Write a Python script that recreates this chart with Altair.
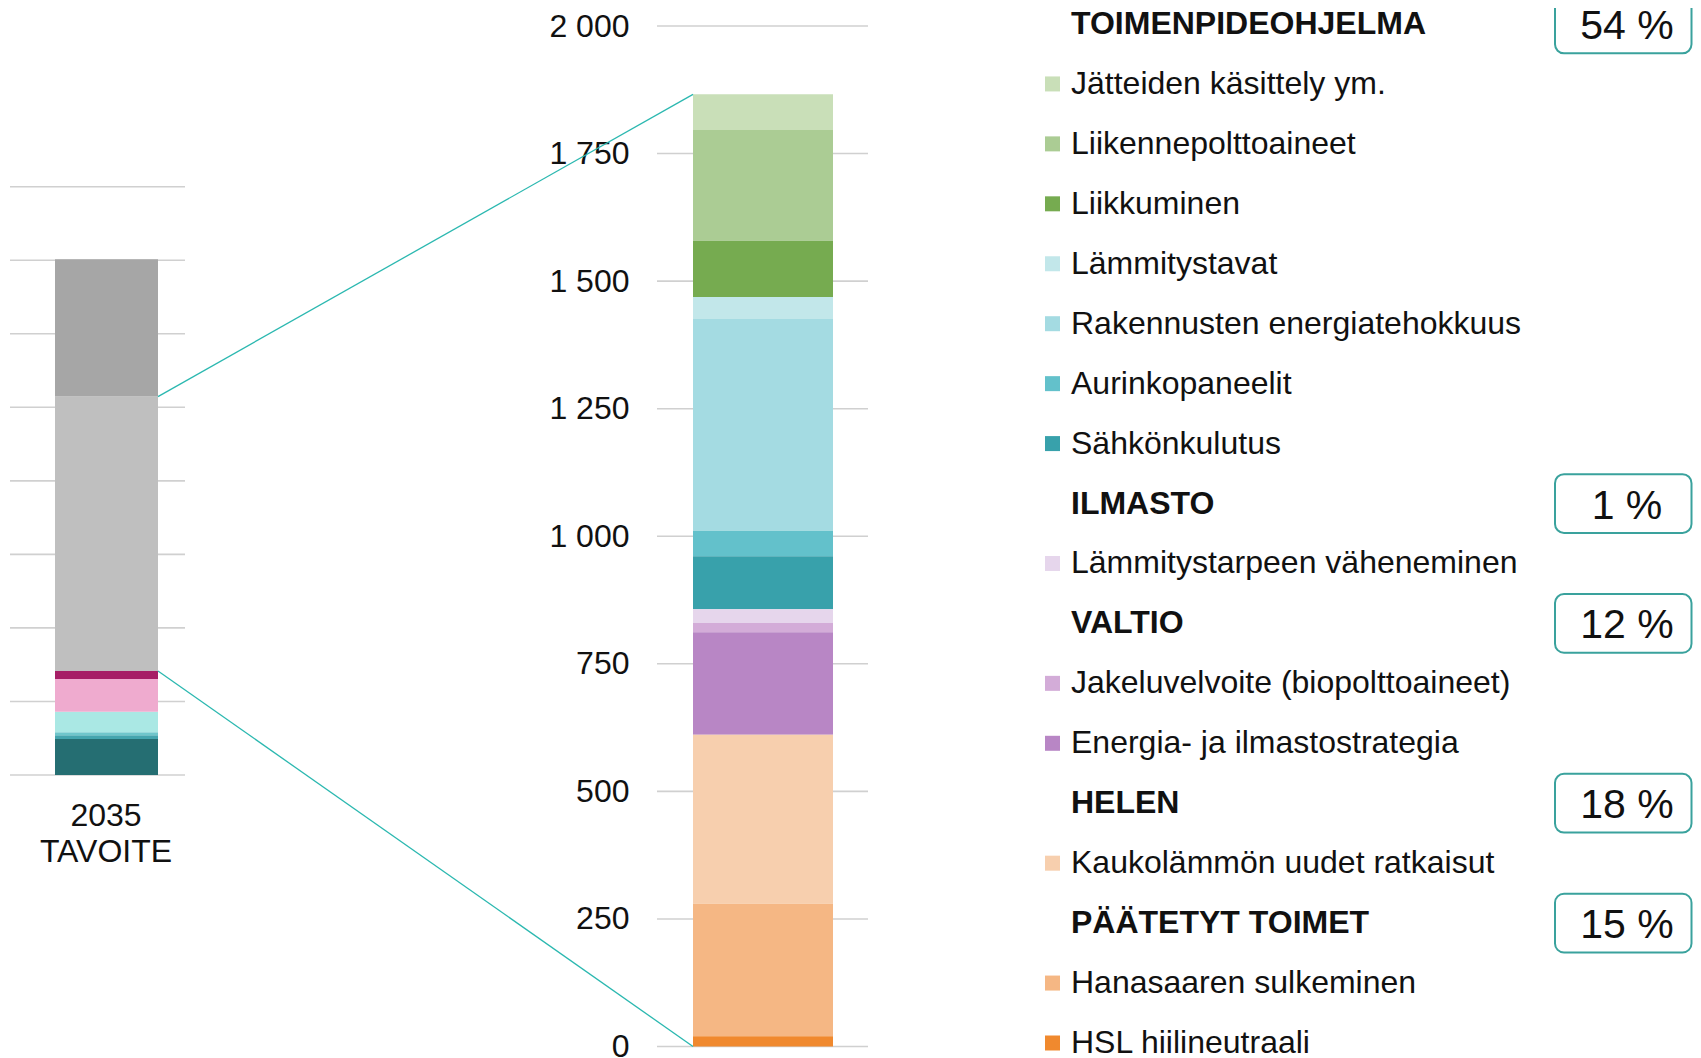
import altair as alt
import pandas as pd

FONT = "Liberation Sans"
TEXT_COLOR = "#111111"

# ---- Left bar: 2035 target (bottom -> top), unlabeled units, grid every 500
left_keys = ["k1", "k2", "k3", "k4", "k5", "k6", "k7", "k8"]
left_vals = [245, 25, 20, 140, 223, 54, 1866, 934]
left_colors = ["#256e72", "#45a5ae", "#6fc6cb", "#aae8e4", "#efabcf", "#a61f66", "#bfbfbf", "#a6a6a6"]
left_ticks = [0, 500, 1000, 1500, 2000, 2500, 3000, 3500, 4000]
left_label = "2035\nTAVOITE"

# ---- Middle bar: categories in legend order (top -> bottom)
mid_cats = [
    "Jätteiden käsittely ym.",
    "Liikennepolttoaineet",
    "Liikkuminen",
    "Lämmitystavat",
    "Rakennusten energiatehokkuus",
    "Aurinkopaneelit",
    "Sähkönkulutus",
    "Lämmitystarpeen väheneminen",
    "Jakeluvelvoite (biopolttoaineet)",
    "Energia- ja ilmastostrategia",
    "Kaukolämmön uudet ratkaisut",
    "Hanasaaren sulkeminen",
    "HSL hiilineutraali",
]
mid_vals = [70, 217, 110, 43, 415, 50, 104, 27, 18, 201, 331, 260, 20]
mid_colors = ["#c9dfb8", "#abcc94", "#76ab50", "#c2e7ea", "#a4dbe2", "#63c1cb", "#38a1ab",
              "#e6d6ec", "#d3acd8", "#b886c5", "#f7cfae", "#f5b784", "#f0892e"]
mid_group = ["TOIMENPIDEOHJELMA"] * 7 + ["ILMASTO"] + ["VALTIO"] * 2 + ["HELEN"] + ["PÄÄTETYT TOIMET"] * 2
mid_ticks = [0, 250, 500, 750, 1000, 1250, 1500, 1750, 2000]

groups = ["TOIMENPIDEOHJELMA", "ILMASTO", "VALTIO", "HELEN", "PÄÄTETYT TOIMET"]
group_pct = ["54 %", "1 %", "12 %", "18 %", "15 %"]

# ---- tables
left_df = pd.DataFrame({"cat": left_keys, "value": left_vals, "idx": list(range(len(left_vals)))})
n = len(mid_cats)
mid_df = pd.DataFrame({"cat": mid_cats, "value": mid_vals, "idx": [n - 1 - i for i in range(n)]})

lo = sum(left_vals[:6])
hi = lo + left_vals[6]
links_df = pd.DataFrame({"left_v": [hi, lo], "mid_v": [sum(mid_vals), 0]})

rows = []
r = 0
for g, p in zip(groups, group_pct):
    rows.append({"row": r, "label": g, "head": True, "col": "#ffffff", "pct": p})
    r += 1
    for c, col, gg in zip(mid_cats, mid_colors, mid_group):
        if gg == g:
            rows.append({"row": r, "label": c, "head": False, "col": col, "pct": ""})
            r += 1
rows_df = pd.DataFrame(rows)
items_df = rows_df[~rows_df["head"]]
heads_df = rows_df[rows_df["head"]]

# ---- scales (pixel layout)
left_y = alt.Scale(domain=[0, 4000], range=[767, 178.7], nice=False, zero=False)
mid_y = alt.Scale(domain=[0, 2000], range=[1038.5, 18], nice=False, zero=False)
row_y = alt.Scale(domain=[0, 17], range=[16, 1035], nice=False, zero=False)

grid_left = alt.Chart(pd.DataFrame({"t": left_ticks})).mark_rule(color="#d0d0d0", strokeWidth=1.6).encode(
    y=alt.Y("t:Q", scale=left_y, axis=None), x=alt.value(2), x2=alt.value(177))

grid_mid = alt.Chart(pd.DataFrame({"t": mid_ticks})).mark_rule(color="#d0d0d0", strokeWidth=1.6).encode(
    y=alt.Y("t:Q", scale=mid_y, axis=None), x=alt.value(649), x2=alt.value(860))

bar_left = alt.Chart(left_df).transform_stack(
    stack="value", groupby=[], as_=["v0", "v1"], sort=[alt.SortField("idx", order="ascending")]
).mark_rect().encode(
    y=alt.Y("v0:Q", scale=left_y, axis=None), y2="v1:Q",
    color=alt.Color("cat:N", scale=alt.Scale(domain=left_keys, range=left_colors), legend=None),
    x=alt.value(47), x2=alt.value(150))

bar_mid = alt.Chart(mid_df).transform_stack(
    stack="value", groupby=[], as_=["v0", "v1"], sort=[alt.SortField("idx", order="ascending")]
).mark_rect().encode(
    y=alt.Y("v0:Q", scale=mid_y,
            axis=alt.Axis(orient="left", values=mid_ticks, labelExpr="replace(format(datum.value, ','), ',', ' ')",
                          domain=False, ticks=False, grid=False, offset=-649, labelPadding=28,
                          labelFontSize=32, labelFont=FONT, labelColor=TEXT_COLOR, title=None,
                          labelBaseline="middle", labelFlush=False, labelOverlap=False)),
    y2="v1:Q",
    color=alt.Color("cat:N", scale=alt.Scale(domain=mid_cats, range=mid_colors), legend=None),
    x=alt.value(685), x2=alt.value(825))

links = alt.Chart(links_df).mark_rule(color="#2bb8b0", strokeWidth=1.3).encode(
    y=alt.Y("mid_v:Q", scale=mid_y, axis=None),
    y2=alt.value({"expr": "scale('layer_2_y', datum.left_v)"}),
    x=alt.value(685), x2=alt.value(150))

lbl = alt.Chart(pd.DataFrame({"label": [left_label]})).mark_text(
    align="center", baseline="alphabetic", lineBreak="\n", lineHeight=36, fontSize=32, font=FONT, color=TEXT_COLOR
).encode(text="label:N", x=alt.value(98), y=alt.value(818))

leg_sq = alt.Chart(items_df).mark_square(size=225, opacity=1, filled=True).encode(
    y=alt.Y("row:Q", scale=row_y, axis=None), x=alt.value(1044.5),
    color=alt.Color("col:N", scale=None))

leg_items = alt.Chart(items_df).mark_text(align="left", baseline="middle", fontSize=32, font=FONT, color=TEXT_COLOR).encode(
    y=alt.Y("row:Q", scale=row_y, axis=None), x=alt.value(1063), text="label:N")

leg_heads = alt.Chart(heads_df).mark_text(align="left", baseline="middle", fontSize=32, font=FONT,
                                          fontWeight="bold", color=TEXT_COLOR).encode(
    y=alt.Y("row:Q", scale=row_y, axis=None), x=alt.value(1063), text="label:N")

boxes = alt.Chart(heads_df).transform_calculate(r0="datum.row - 0.49", r1="datum.row + 0.49").mark_rect(
    cornerRadius=9, fill="white", stroke="#3aa29d", strokeWidth=2).encode(
    y=alt.Y("r0:Q", scale=row_y, axis=None), y2="r1:Q", x=alt.value(1547), x2=alt.value(1683.5))

box_text = alt.Chart(heads_df).mark_text(align="center", baseline="middle", fontSize=41, font=FONT,
                                         color=TEXT_COLOR, dy=3).encode(
    y=alt.Y("row:Q", scale=row_y, axis=None), x=alt.value(1619), text="pct:N")

chart = alt.layer(
    grid_left, grid_mid, bar_left, bar_mid, links, lbl, leg_sq, leg_items, leg_heads, boxes, box_text
).resolve_scale(y="independent", color="independent").properties(
    width=1685, height=1050, padding=0, autosize=alt.AutoSizeParams(type="none")
).configure_view(stroke=None)

chart.save("out.html", embed_options={"renderer": "svg", "actions": False})
